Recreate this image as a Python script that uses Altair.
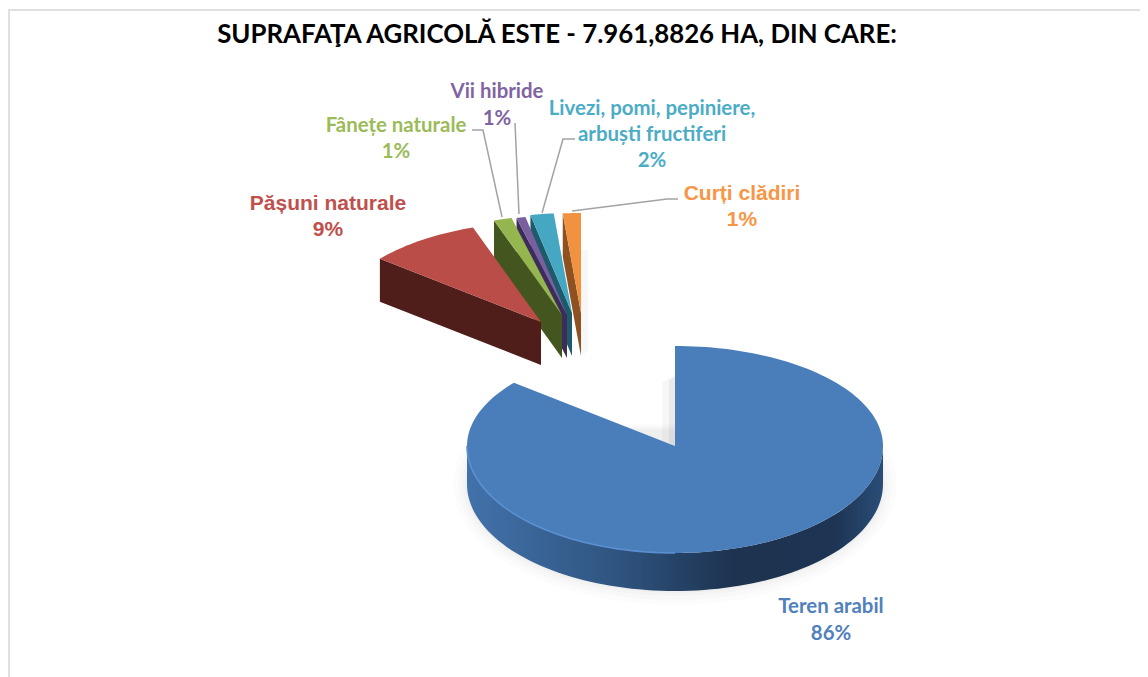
import math
import altair as alt
import pandas as pd

# values
names = ["Teren arabil", "Pășuni naturale", "Fânețe naturale", "Vii hibride",
         "Livezi, pomi, pepiniere, arbuști fructiferi", "Curți clădiri"]
shares = [85.9, 8.8, 1.4, 0.7, 1.8, 1.4]
share_labels = ["86%", "9%", "1%", "1%", "2%", "1%"]
top_colors = ["#4a7ebb", "#bb4d49", "#95b54f", "#7a5f9f", "#46a7c2", "#f0923f"]
side_colors = ["#2b4a73", "#4f1e1a", "#43561f", "#3d2c5a", "#1c5a6c", "#8f5122"]
label_colors = ["#4f81bd", "#c0504d", "#9bbb59", "#8064a2", "#4bacc6", "#f79646"]
title_text = "SUPRAFAŢA AGRICOLĂ ESTE - 7.961,8826 HA, DIN CARE:"

# layout
W, H = 1132, 669
RX, RY = 208, 100
apex = [(675, 446), (541, 322), (562, 315), (567, 315), (572, 313), (581, 313)]
THICK = 43
BLUE_THICK = 38
BLUE_RY_FRONT = 107

X = alt.X("x:Q", scale=alt.Scale(domain=[8, 8 + W], nice=False, zero=False), axis=None)
Y = alt.Y("y:Q", scale=alt.Scale(domain=[8 + H, 8], nice=False, zero=False), axis=None)


def poly(points, fill, opacity=1.0):
    df = pd.DataFrame({"x": [p[0] for p in points], "y": [p[1] for p in points],
                       "i": list(range(len(points)))})
    return alt.Chart(df).mark_line(fill=fill, stroke=None, strokeWidth=0, opacity=opacity,
                                   interpolate="linear-closed", clip=False).encode(
        x=X, y=Y, order="i:Q")


def polyline(points, color, width):
    df = pd.DataFrame({"x": [p[0] for p in points], "y": [p[1] for p in points],
                       "i": list(range(len(points)))})
    return alt.Chart(df).mark_line(color=color, strokeWidth=width).encode(x=X, y=Y, order="i:Q")


def text(s, x, y, color, size, font, weight="bold"):
    df = pd.DataFrame({"t": [s], "x": [x], "y": [y + 2]})
    return alt.Chart(df).mark_text(color=color, fontSize=size, font=font, fontWeight=weight,
                                   align="center", baseline="middle").encode(
        x=X, y=Y, text="t:N")


def pt(cx, cy, deg, ry_back=RY, ry_front=RY):
    t = math.radians(deg)
    c = math.cos(t)
    return (cx + RX * math.sin(t), cy - (ry_back if c > 0 else ry_front) * c)


cum = [0.0]
for s in shares:
    cum.append(cum[-1] + s * 3.6)

layers = []

# soft shadow under the big slice
for grow, op in [(14, 0.012), (9, 0.014), (5, 0.016), (2, 0.02)]:
    sh = []
    for d in range(60, 301, 4):
        t = math.radians(d)
        sh.append((675 + (RX + grow) * math.sin(t), 446 + BLUE_THICK - (BLUE_RY_FRONT + grow) * math.cos(t)))
    layers.append(poly(sh, "#000000", op))

# notch shadow
layers.append(poly([(662, 382), (675, 376), (675, 446), (662, 440)], "#000000", 0.03))
layers.append(poly([(669, 380), (675, 376), (675, 446), (669, 443)], "#000000", 0.05))

# faint shadow right of the last slice
layers.append(poly([(581, 250), (588, 250), (588, 350), (581, 356)], "#000000", 0.03))

# big slice rim
cx, cy = apex[0]
front = [pt(cx, cy, d, RY, BLUE_RY_FRONT) for d in range(90, 271, 2)]
rim = front + [(x, y + BLUE_THICK) for x, y in reversed(front)]
rim_grad = alt.Gradient(gradient="linear", x1=0, x2=1, y1=0, y2=0, stops=[
    alt.GradientStop(offset=0, color="#4272ab"),
    alt.GradientStop(offset=0.12, color="#3c689c"),
    alt.GradientStop(offset=0.36, color="#2f5480"),
    alt.GradientStop(offset=0.64, color="#1d3350"),
    alt.GradientStop(offset=0.88, color="#1d3452"),
    alt.GradientStop(offset=1, color="#2a4d78"),
])
layers.append(poly(rim, rim_grad))

# big slice top
top = [(cx, cy)] + [pt(cx, cy, d, RY, BLUE_RY_FRONT) for d in
                    [i * cum[1] / 180 for i in range(181)]]
layers.append(poly(top, top_colors[0]))
layers.append(polyline([pt(cx, cy, d, RY, BLUE_RY_FRONT) for d in range(180, 271, 2)], "#5b90d2", 1.6))

# exploded slices, back to front
for k in [5, 4, 3, 2, 1]:
    ax, ay = apex[k]
    a0, a1 = cum[k], cum[k + 1]
    corner = pt(ax, ay, a0)
    layers.append(poly([(ax, ay), corner, (corner[0], corner[1] + THICK), (ax, ay + THICK)], side_colors[k]))
    n = 24
    arc = [pt(ax, ay, a0 + (a1 - a0) * i / n) for i in range(n + 1)]
    layers.append(poly([(ax, ay)] + arc, top_colors[k]))

# leader lines
GREY = "#a3a3a3"
layers.append(polyline([(472, 130), (483, 130), (502, 217)], GREY, 1.5))
layers.append(polyline([(515, 123), (519, 214)], GREY, 1.5))
layers.append(polyline([(575, 139), (563, 139), (542, 213)], GREY, 1.5))
layers.append(polyline([(678, 199), (667, 199), (572, 211)], GREY, 1.5))

# frame
layers.append(polyline([(9, 677), (9, 10), (1140, 10)], "#e0e0e0", 2))

# texts
CAL = "Lato"
ARI = "Liberation Sans"
layers.append(text(title_text, 557, 33, "#000000", 25.8, CAL))
layers.append(text(names[0], 831, 605, label_colors[0], 20.4, CAL))
layers.append(text(share_labels[0], 831, 632, label_colors[0], 20.4, CAL))
layers.append(text(names[1], 328, 202, label_colors[1], 21, ARI))
layers.append(text(share_labels[1], 328, 228, label_colors[1], 21, ARI))
layers.append(text(names[2], 396, 124, label_colors[2], 20.4, CAL))
layers.append(text(share_labels[2], 396, 150, label_colors[2], 20.4, CAL))
layers.append(text(names[3], 497, 90, label_colors[3], 20.4, CAL))
layers.append(text(share_labels[3], 497, 117, label_colors[3], 20.4, CAL))
layers.append(text("Livezi, pomi, pepiniere,", 652, 107, label_colors[4], 20.4, CAL))
layers.append(text("arbuști fructiferi", 652, 133, label_colors[4], 20.4, CAL))
layers.append(text(share_labels[4], 652, 159, label_colors[4], 20.4, CAL))
layers.append(text(names[5], 742, 192, label_colors[5], 21, ARI))
layers.append(text(share_labels[5], 742, 218, label_colors[5], 21, ARI))

chart = alt.layer(*layers).properties(
    width=W, height=H, padding=0, background="#ffffff",
    autosize=alt.AutoSizeParams(type="none"),
).configure_view(stroke=None)
chart.save("out.html", embed_options={"renderer": "svg", "actions": False})
